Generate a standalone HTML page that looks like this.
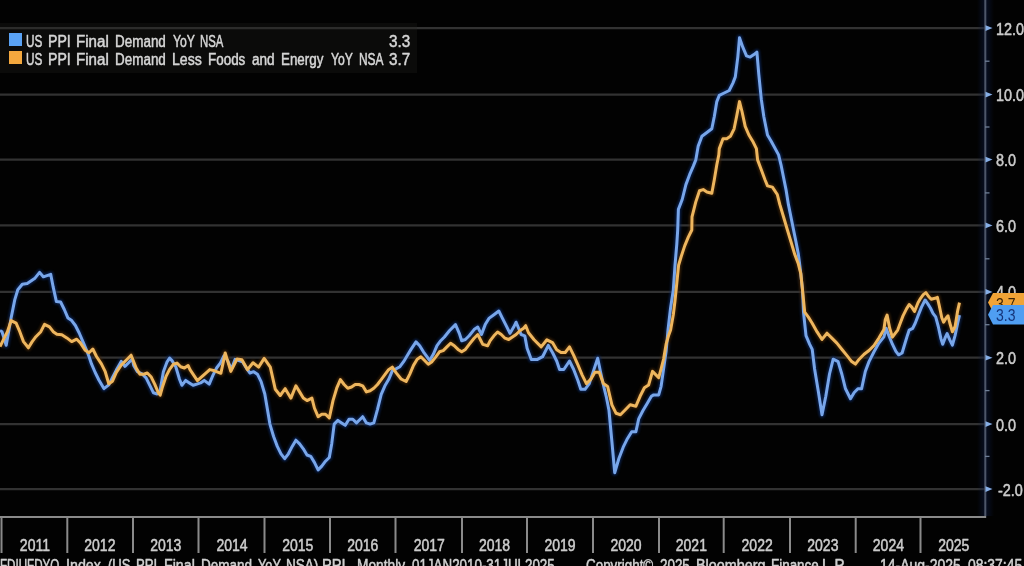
<!DOCTYPE html>
<html><head><meta charset="utf-8"><style>
html,body{margin:0;padding:0;background:#020202;}
body{width:1024px;height:566px;overflow:hidden;position:relative;font-family:"Liberation Sans",sans-serif;color:#cfcfcf;}
svg{position:absolute;left:0;top:0;}
.t{position:absolute;white-space:pre;font-size:16px;line-height:18px;transform-origin:0 0;transform:scaleX(0.875);text-shadow:0 0 1px rgba(200,200,200,0.5);-webkit-text-stroke:0.4px currentColor;filter:blur(0.3px);}
.yl{position:absolute;left:996px;white-space:pre;font-size:16px;line-height:18px;transform-origin:0 0;transform:scaleX(0.9);color:#cacaca;text-shadow:0 0 1px rgba(200,200,200,0.5);-webkit-text-stroke:0.4px currentColor;filter:blur(0.3px);}
.xl{position:absolute;top:537px;text-align:center;font-size:16px;line-height:18px;white-space:pre;color:#cacaca;transform:scaleX(0.875);text-shadow:0 0 1px rgba(200,200,200,0.5);-webkit-text-stroke:0.4px currentColor;filter:blur(0.3px);}
#legend{position:absolute;left:0;top:29.5px;width:416px;height:43px;}
#lbg{position:absolute;left:0;top:22.5px;width:417px;height:50.5px;background:rgba(34,32,30,0.3);}
.w{position:absolute;white-space:pre;font-size:16px;line-height:18px;transform-origin:0 0;text-shadow:0 0 1px rgba(200,200,200,0.5);-webkit-text-stroke:0.4px currentColor;filter:blur(0.3px);}
.sq{position:absolute;left:9px;width:13px;height:13px;}
.tag{position:absolute;left:988px;width:36px;clip-path:polygon(0 50%,5px 0,100% 0,100% 100%,5px 100%);}
.tag span{position:absolute;left:8px;top:0;font-size:16px;line-height:19px;transform-origin:0 0;transform:scaleX(0.875);}
</style></head><body>
<svg width="1024" height="566" viewBox="0 0 1024 566">
<g stroke="#323232" stroke-width="2.2"><line x1="0" y1="28.1" x2="985" y2="28.1" /><line x1="0" y1="94.6" x2="985" y2="94.6" /><line x1="0" y1="159.6" x2="985" y2="159.6" /><line x1="0" y1="225.4" x2="985" y2="225.4" /><line x1="0" y1="291.9" x2="985" y2="291.9" /><line x1="0" y1="357.7" x2="985" y2="357.7" /><line x1="0" y1="424.1" x2="985" y2="424.1" /><line x1="0" y1="489.1" x2="985" y2="489.1" /></g>
</svg>
<div id="lbg"></div>
<div id="legend">
 <div class="sq" style="top:3.5px;background:#5aa2f4"></div>
 <div class="sq" style="top:21.5px;background:#f4a83e"></div>
 <div class="w" style="left:26.07px;top:3.5px;color:#d4d4d4;transform:scaleX(0.7333);">US</div><div class="w" style="left:48.02px;top:3.5px;color:#d4d4d4;transform:scaleX(0.8833);">PPI</div><div class="w" style="left:76.45px;top:3.5px;color:#d4d4d4;transform:scaleX(0.9455);">Final</div><div class="w" style="left:114.86px;top:3.5px;color:#d4d4d4;transform:scaleX(0.8407);">Demand</div><div class="w" style="left:172.50px;top:3.5px;color:#d4d4d4;transform:scaleX(0.7621);">YoY</div><div class="w" style="left:200.49px;top:3.5px;color:#d4d4d4;transform:scaleX(0.7094);">NSA</div>
 <div class="w" style="left:26.07px;top:21.5px;color:#d4d4d4;transform:scaleX(0.7333);">US</div><div class="w" style="left:48.02px;top:21.5px;color:#d4d4d4;transform:scaleX(0.8833);">PPI</div><div class="w" style="left:76.45px;top:21.5px;color:#d4d4d4;transform:scaleX(0.9455);">Final</div><div class="w" style="left:114.86px;top:21.5px;color:#d4d4d4;transform:scaleX(0.8407);">Demand</div><div class="w" style="left:171.62px;top:21.5px;color:#d4d4d4;transform:scaleX(0.8818);">Less</div><div class="w" style="left:208.36px;top:21.5px;color:#d4d4d4;transform:scaleX(0.8395);">Foods</div><div class="w" style="left:252.00px;top:21.5px;color:#d4d4d4;transform:scaleX(0.8462);">and</div><div class="w" style="left:280.96px;top:21.5px;color:#d4d4d4;transform:scaleX(0.8360);">Energy</div><div class="w" style="left:330.90px;top:21.5px;color:#d4d4d4;transform:scaleX(0.7586);">YoY</div><div class="w" style="left:358.86px;top:21.5px;color:#d4d4d4;transform:scaleX(0.7438);">NSA</div>
 <div class="t" style="left:389px;top:3.5px;color:#d4d4d4;transform:scaleX(0.95)">3.3</div>
 <div class="t" style="left:389px;top:21.5px;color:#d4d4d4;transform:scaleX(0.95)">3.7</div>
</div>
<svg width="1024" height="566" viewBox="0 0 1024 566">
<defs><linearGradient id="ag" x1="0" x2="1" y1="0" y2="0"><stop offset="0" stop-color="#0c1a40" stop-opacity="0"/><stop offset="0.5" stop-color="#0c1a40" stop-opacity="0.55"/><stop offset="1" stop-color="#0c1a40" stop-opacity="0"/></linearGradient></defs>
<rect x="977" y="0" width="17" height="516" fill="url(#ag)"/>
<g style="filter:blur(1.2px)" opacity="0.7">
<polyline fill="none" stroke="#0c2a66" stroke-width="6" stroke-linejoin="round" points="0.0,330.5 2.0,331.7 6.2,345.3 11.1,318.1 14.8,299.6 17.8,289.7 22.3,284.2 27.2,283.5 30.9,281.0 34.6,278.6 39.6,272.4 43.3,276.8 50.7,274.3 53.2,287.2 56.4,301.6 60.6,302.0 64.3,309.5 68.0,318.1 71.7,320.6 75.4,325.5 79.2,333.0 82.9,341.6 86.6,350.3 89.0,356.5 91.5,363.9 95.2,372.5 98.9,380.0 103.9,388.6 108.8,384.9 112.5,377.5 116.3,370.1 121.2,361.4 124.9,366.4 128.6,362.7 132.3,358.9 133.7,365.5 137.4,371.7 142.4,374.2 146.1,377.9 149.8,385.3 153.5,392.8 157.2,394.0 159.7,392.8 163.4,371.7 167.1,361.8 169.6,358.1 172.0,360.6 175.8,366.8 179.5,379.2 181.9,385.3 185.7,380.4 189.4,382.9 193.1,385.3 196.8,384.1 200.5,382.9 204.2,380.4 209.2,384.1 212.9,375.4 216.6,368.0 220.3,363.1 224.0,355.7 227.7,360.6 231.4,369.3 235.1,359.4 238.8,360.6 242.5,361.8 246.3,368.0 250.0,373.0 253.7,371.7 257.4,374.2 261.1,381.6 264.8,394.0 267.4,409.3 269.9,424.1 273.6,436.5 277.3,446.4 281.0,453.8 284.7,458.7 288.4,453.8 292.2,446.4 295.9,440.2 299.6,443.9 303.3,448.8 307.0,455.0 310.7,456.3 314.4,462.4 318.1,469.9 321.8,466.1 325.5,461.2 329.3,457.5 331.7,443.9 334.2,424.1 337.9,420.4 341.6,422.9 345.3,425.3 349.0,419.2 352.8,419.2 356.5,422.9 360.2,419.2 362.7,416.7 366.4,422.9 370.1,424.1 373.8,422.9 377.5,409.3 381.2,394.4 384.9,385.8 388.6,379.6 392.3,370.9 399.9,366.7 403.6,361.7 407.3,355.5 411.0,349.4 416.0,341.9 419.7,345.7 423.4,351.8 427.1,356.8 429.6,360.5 433.3,354.3 437.0,345.7 440.7,340.7 444.4,337.0 449.4,330.8 455.5,324.6 459.3,333.3 461.7,340.7 465.4,339.5 469.2,335.8 474.1,329.6 477.8,327.1 481.5,334.5 485.2,324.6 488.9,318.4 493.9,314.7 498.8,311.0 502.5,318.4 506.3,325.9 510.0,333.3 513.7,327.1 516.1,322.2 518.6,328.3 521.1,334.5 524.8,335.8 527.1,348.3 531.3,359.6 537.0,359.6 542.6,356.7 548.3,345.4 552.5,352.5 556.7,361.0 559.6,369.5 563.8,369.5 569.5,361.0 573.7,369.5 578.0,380.8 580.8,389.3 585.0,389.3 589.3,383.6 593.5,370.9 597.7,358.2 600.6,372.3 603.4,385.0 606.2,396.3 609.0,410.5 611.9,441.6 614.7,472.7 618.9,458.5 623.2,447.2 627.4,438.7 631.7,431.7 635.9,431.7 638.7,418.9 643.0,410.5 647.2,403.4 651.4,396.3 653.7,394.9 658.7,394.9 661.1,386.3 663.6,368.9 666.1,351.6 668.0,330.0 670.6,307.7 673.3,290.1 675.0,265.3 676.8,244.1 677.7,230.0 678.4,209.4 682.2,199.5 685.9,184.6 689.6,174.7 693.3,166.1 695.8,159.9 698.2,146.1 701.9,136.3 706.9,132.5 711.8,128.8 714.3,116.5 716.8,101.6 719.3,95.4 724.2,93.0 729.2,90.5 732.9,83.1 735.3,76.9 737.8,57.1 739.5,37.8 742.8,47.2 746.5,55.9 750.2,57.1 753.9,54.6 756.9,52.2 758.8,74.4 761.3,99.2 763.8,116.5 767.5,135.0 771.2,141.2 778.6,154.9 781.0,164.8 783.5,177.2 786.0,189.6 788.4,204.4 790.9,216.8 793.4,229.2 795.9,241.5 798.3,253.9 799.6,263.8 800.8,273.7 802.5,289.9 803.5,312.2 806.0,335.7 809.7,344.3 812.2,349.3 814.6,369.0 818.3,391.3 822.0,414.8 825.8,396.3 829.5,374.0 833.2,359.2 838.1,361.6 841.8,374.0 845.5,388.8 850.5,398.7 854.2,392.5 857.9,388.8 861.6,388.8 865.3,371.5 869.0,361.6 874.0,351.7 878.9,343.1 883.9,336.9 886.2,328.3 888.8,335.4 892.4,344.2 895.9,351.3 898.6,354.8 902.1,353.0 904.7,344.2 907.4,335.4 909.2,330.1 912.7,328.3 915.3,323.0 918.0,315.9 921.5,307.1 925.1,300.0 927.7,303.6 930.4,308.0 933.0,313.3 935.7,316.8 938.3,326.5 941.0,338.9 942.7,344.2 945.4,337.1 947.1,333.6 949.8,339.8 952.4,345.1 955.1,335.4 957.7,323.0 959.5,315.1"/>
<polyline fill="none" stroke="#4a2a08" stroke-width="6" stroke-linejoin="round" points="0.0,346.6 3.7,339.2 7.4,331.7 11.1,320.6 16.1,323.1 19.8,331.7 23.5,341.6 28.4,347.8 32.2,341.6 35.9,336.7 40.8,331.7 44.5,324.3 49.5,326.8 53.2,331.7 56.9,334.2 61.8,334.7 66.8,337.9 71.7,341.6 76.7,339.2 80.4,342.9 85.3,350.3 89.0,352.8 92.8,349.0 96.5,356.5 101.4,363.9 105.1,371.3 108.8,383.7 112.5,381.2 116.3,372.5 121.2,365.1 126.1,360.2 131.1,355.2 136.2,368.0 139.9,374.2 143.6,374.2 147.3,373.0 151.0,376.7 154.7,384.1 158.4,392.8 160.2,395.2 162.2,387.8 165.9,376.7 169.6,369.3 173.3,364.3 177.0,363.1 180.7,366.8 184.4,368.0 188.1,365.5 190.0,369.6 197.4,380.7 209.8,369.6 214.7,370.8 220.9,373.3 225.2,352.9 230.8,371.4 237.0,359.0 241.9,359.7 247.5,369.6 253.0,362.8 258.6,367.1 264.2,358.4 270.3,367.1 275.3,389.3 280.2,395.5 285.2,388.7 290.0,396.7 290.9,398.1 295.9,385.8 299.6,391.9 303.3,398.1 307.0,400.6 311.9,398.1 314.4,408.0 318.1,416.7 321.8,414.2 325.5,414.2 329.3,417.9 333.0,400.6 336.7,388.2 340.4,379.6 344.1,384.5 347.8,388.2 351.5,387.0 355.2,384.5 358.9,384.5 362.7,385.8 366.4,391.9 370.1,390.7 373.8,388.2 377.5,384.5 381.2,379.6 384.9,374.6 388.6,369.7 392.3,367.2 396.2,372.9 401.1,379.0 406.1,381.5 409.8,374.1 413.5,365.4 417.2,359.3 420.9,356.8 424.6,360.5 428.3,364.2 432.0,361.7 435.8,356.8 439.5,351.8 443.2,350.6 446.9,346.9 450.6,343.2 454.3,345.7 458.0,349.4 461.7,351.8 465.4,349.4 469.2,344.4 474.1,338.2 477.8,334.5 480.3,339.5 482.8,344.4 487.7,345.7 490.2,340.7 493.9,335.8 497.6,332.0 501.3,334.5 505.0,338.2 508.7,339.5 512.4,337.0 516.1,334.5 519.9,330.8 523.6,328.3 525.7,325.7 528.5,332.7 534.1,339.8 541.2,346.9 546.9,339.8 552.5,342.6 556.7,349.7 561.0,352.5 565.2,352.5 569.5,346.9 573.7,355.3 578.0,365.2 582.2,375.1 586.4,383.6 590.7,379.4 594.9,372.3 599.2,372.3 603.4,383.6 607.6,386.4 611.9,404.8 616.1,413.3 620.4,414.7 624.6,410.5 630.2,404.8 635.9,406.2 640.1,396.3 644.4,387.8 648.6,385.0 652.5,371.4 656.2,375.1 658.7,377.6 661.1,368.9 663.6,359.0 666.1,344.2 668.6,335.5 670.6,330.0 673.3,314.8 675.0,300.7 676.8,283.0 678.6,265.3 681.2,256.5 684.7,245.9 688.3,237.1 691.8,230.0 692.0,216.8 695.8,201.9 699.5,190.8 703.2,189.6 706.9,192.0 711.8,193.3 714.3,179.7 716.8,164.8 718.8,154.9 719.3,148.6 723.0,138.7 726.7,138.7 730.4,136.3 734.1,128.8 736.6,116.5 739.5,101.6 742.0,111.5 745.2,126.4 748.9,135.0 752.7,141.2 756.4,148.6 757.6,159.9 761.3,169.8 765.0,179.7 767.5,185.9 772.4,187.1 777.3,194.5 779.8,204.4 783.5,216.8 787.2,229.2 790.9,241.5 794.6,253.9 798.3,263.8 800.8,273.7 802.5,289.9 804.7,312.2 808.4,317.1 812.2,323.3 817.1,331.9 822.0,339.4 827.0,333.2 831.9,338.1 836.9,343.1 841.8,349.3 846.8,355.4 851.7,361.6 855.4,364.1 859.2,359.2 864.1,354.2 869.0,350.5 874.0,345.5 878.9,338.1 883.9,329.5 885.3,319.5 887.1,315.1 889.7,328.3 892.4,337.1 895.0,333.6 897.7,330.1 900.3,323.0 903.0,315.9 906.5,308.9 909.2,304.5 911.8,307.1 914.5,311.5 918.0,302.7 920.6,298.3 923.3,294.7 925.9,292.6 928.6,296.5 931.2,299.2 934.8,298.3 937.4,297.4 939.2,305.3 941.8,317.7 943.6,322.1 946.3,317.7 948.0,315.9 949.8,323.0 952.4,331.8 955.1,326.5 957.7,310.6 959.5,302.7"/>
</g>
<g style="filter:blur(0.45px)">
<polyline fill="none" stroke="#78a6ea" stroke-width="3" stroke-linejoin="round" points="0.0,330.5 2.0,331.7 6.2,345.3 11.1,318.1 14.8,299.6 17.8,289.7 22.3,284.2 27.2,283.5 30.9,281.0 34.6,278.6 39.6,272.4 43.3,276.8 50.7,274.3 53.2,287.2 56.4,301.6 60.6,302.0 64.3,309.5 68.0,318.1 71.7,320.6 75.4,325.5 79.2,333.0 82.9,341.6 86.6,350.3 89.0,356.5 91.5,363.9 95.2,372.5 98.9,380.0 103.9,388.6 108.8,384.9 112.5,377.5 116.3,370.1 121.2,361.4 124.9,366.4 128.6,362.7 132.3,358.9 133.7,365.5 137.4,371.7 142.4,374.2 146.1,377.9 149.8,385.3 153.5,392.8 157.2,394.0 159.7,392.8 163.4,371.7 167.1,361.8 169.6,358.1 172.0,360.6 175.8,366.8 179.5,379.2 181.9,385.3 185.7,380.4 189.4,382.9 193.1,385.3 196.8,384.1 200.5,382.9 204.2,380.4 209.2,384.1 212.9,375.4 216.6,368.0 220.3,363.1 224.0,355.7 227.7,360.6 231.4,369.3 235.1,359.4 238.8,360.6 242.5,361.8 246.3,368.0 250.0,373.0 253.7,371.7 257.4,374.2 261.1,381.6 264.8,394.0 267.4,409.3 269.9,424.1 273.6,436.5 277.3,446.4 281.0,453.8 284.7,458.7 288.4,453.8 292.2,446.4 295.9,440.2 299.6,443.9 303.3,448.8 307.0,455.0 310.7,456.3 314.4,462.4 318.1,469.9 321.8,466.1 325.5,461.2 329.3,457.5 331.7,443.9 334.2,424.1 337.9,420.4 341.6,422.9 345.3,425.3 349.0,419.2 352.8,419.2 356.5,422.9 360.2,419.2 362.7,416.7 366.4,422.9 370.1,424.1 373.8,422.9 377.5,409.3 381.2,394.4 384.9,385.8 388.6,379.6 392.3,370.9 399.9,366.7 403.6,361.7 407.3,355.5 411.0,349.4 416.0,341.9 419.7,345.7 423.4,351.8 427.1,356.8 429.6,360.5 433.3,354.3 437.0,345.7 440.7,340.7 444.4,337.0 449.4,330.8 455.5,324.6 459.3,333.3 461.7,340.7 465.4,339.5 469.2,335.8 474.1,329.6 477.8,327.1 481.5,334.5 485.2,324.6 488.9,318.4 493.9,314.7 498.8,311.0 502.5,318.4 506.3,325.9 510.0,333.3 513.7,327.1 516.1,322.2 518.6,328.3 521.1,334.5 524.8,335.8 527.1,348.3 531.3,359.6 537.0,359.6 542.6,356.7 548.3,345.4 552.5,352.5 556.7,361.0 559.6,369.5 563.8,369.5 569.5,361.0 573.7,369.5 578.0,380.8 580.8,389.3 585.0,389.3 589.3,383.6 593.5,370.9 597.7,358.2 600.6,372.3 603.4,385.0 606.2,396.3 609.0,410.5 611.9,441.6 614.7,472.7 618.9,458.5 623.2,447.2 627.4,438.7 631.7,431.7 635.9,431.7 638.7,418.9 643.0,410.5 647.2,403.4 651.4,396.3 653.7,394.9 658.7,394.9 661.1,386.3 663.6,368.9 666.1,351.6 668.0,330.0 670.6,307.7 673.3,290.1 675.0,265.3 676.8,244.1 677.7,230.0 678.4,209.4 682.2,199.5 685.9,184.6 689.6,174.7 693.3,166.1 695.8,159.9 698.2,146.1 701.9,136.3 706.9,132.5 711.8,128.8 714.3,116.5 716.8,101.6 719.3,95.4 724.2,93.0 729.2,90.5 732.9,83.1 735.3,76.9 737.8,57.1 739.5,37.8 742.8,47.2 746.5,55.9 750.2,57.1 753.9,54.6 756.9,52.2 758.8,74.4 761.3,99.2 763.8,116.5 767.5,135.0 771.2,141.2 778.6,154.9 781.0,164.8 783.5,177.2 786.0,189.6 788.4,204.4 790.9,216.8 793.4,229.2 795.9,241.5 798.3,253.9 799.6,263.8 800.8,273.7 802.5,289.9 803.5,312.2 806.0,335.7 809.7,344.3 812.2,349.3 814.6,369.0 818.3,391.3 822.0,414.8 825.8,396.3 829.5,374.0 833.2,359.2 838.1,361.6 841.8,374.0 845.5,388.8 850.5,398.7 854.2,392.5 857.9,388.8 861.6,388.8 865.3,371.5 869.0,361.6 874.0,351.7 878.9,343.1 883.9,336.9 886.2,328.3 888.8,335.4 892.4,344.2 895.9,351.3 898.6,354.8 902.1,353.0 904.7,344.2 907.4,335.4 909.2,330.1 912.7,328.3 915.3,323.0 918.0,315.9 921.5,307.1 925.1,300.0 927.7,303.6 930.4,308.0 933.0,313.3 935.7,316.8 938.3,326.5 941.0,338.9 942.7,344.2 945.4,337.1 947.1,333.6 949.8,339.8 952.4,345.1 955.1,335.4 957.7,323.0 959.5,315.1"/>
<polyline fill="none" stroke="#eeb65e" stroke-width="3" stroke-linejoin="round" points="0.0,346.6 3.7,339.2 7.4,331.7 11.1,320.6 16.1,323.1 19.8,331.7 23.5,341.6 28.4,347.8 32.2,341.6 35.9,336.7 40.8,331.7 44.5,324.3 49.5,326.8 53.2,331.7 56.9,334.2 61.8,334.7 66.8,337.9 71.7,341.6 76.7,339.2 80.4,342.9 85.3,350.3 89.0,352.8 92.8,349.0 96.5,356.5 101.4,363.9 105.1,371.3 108.8,383.7 112.5,381.2 116.3,372.5 121.2,365.1 126.1,360.2 131.1,355.2 136.2,368.0 139.9,374.2 143.6,374.2 147.3,373.0 151.0,376.7 154.7,384.1 158.4,392.8 160.2,395.2 162.2,387.8 165.9,376.7 169.6,369.3 173.3,364.3 177.0,363.1 180.7,366.8 184.4,368.0 188.1,365.5 190.0,369.6 197.4,380.7 209.8,369.6 214.7,370.8 220.9,373.3 225.2,352.9 230.8,371.4 237.0,359.0 241.9,359.7 247.5,369.6 253.0,362.8 258.6,367.1 264.2,358.4 270.3,367.1 275.3,389.3 280.2,395.5 285.2,388.7 290.0,396.7 290.9,398.1 295.9,385.8 299.6,391.9 303.3,398.1 307.0,400.6 311.9,398.1 314.4,408.0 318.1,416.7 321.8,414.2 325.5,414.2 329.3,417.9 333.0,400.6 336.7,388.2 340.4,379.6 344.1,384.5 347.8,388.2 351.5,387.0 355.2,384.5 358.9,384.5 362.7,385.8 366.4,391.9 370.1,390.7 373.8,388.2 377.5,384.5 381.2,379.6 384.9,374.6 388.6,369.7 392.3,367.2 396.2,372.9 401.1,379.0 406.1,381.5 409.8,374.1 413.5,365.4 417.2,359.3 420.9,356.8 424.6,360.5 428.3,364.2 432.0,361.7 435.8,356.8 439.5,351.8 443.2,350.6 446.9,346.9 450.6,343.2 454.3,345.7 458.0,349.4 461.7,351.8 465.4,349.4 469.2,344.4 474.1,338.2 477.8,334.5 480.3,339.5 482.8,344.4 487.7,345.7 490.2,340.7 493.9,335.8 497.6,332.0 501.3,334.5 505.0,338.2 508.7,339.5 512.4,337.0 516.1,334.5 519.9,330.8 523.6,328.3 525.7,325.7 528.5,332.7 534.1,339.8 541.2,346.9 546.9,339.8 552.5,342.6 556.7,349.7 561.0,352.5 565.2,352.5 569.5,346.9 573.7,355.3 578.0,365.2 582.2,375.1 586.4,383.6 590.7,379.4 594.9,372.3 599.2,372.3 603.4,383.6 607.6,386.4 611.9,404.8 616.1,413.3 620.4,414.7 624.6,410.5 630.2,404.8 635.9,406.2 640.1,396.3 644.4,387.8 648.6,385.0 652.5,371.4 656.2,375.1 658.7,377.6 661.1,368.9 663.6,359.0 666.1,344.2 668.6,335.5 670.6,330.0 673.3,314.8 675.0,300.7 676.8,283.0 678.6,265.3 681.2,256.5 684.7,245.9 688.3,237.1 691.8,230.0 692.0,216.8 695.8,201.9 699.5,190.8 703.2,189.6 706.9,192.0 711.8,193.3 714.3,179.7 716.8,164.8 718.8,154.9 719.3,148.6 723.0,138.7 726.7,138.7 730.4,136.3 734.1,128.8 736.6,116.5 739.5,101.6 742.0,111.5 745.2,126.4 748.9,135.0 752.7,141.2 756.4,148.6 757.6,159.9 761.3,169.8 765.0,179.7 767.5,185.9 772.4,187.1 777.3,194.5 779.8,204.4 783.5,216.8 787.2,229.2 790.9,241.5 794.6,253.9 798.3,263.8 800.8,273.7 802.5,289.9 804.7,312.2 808.4,317.1 812.2,323.3 817.1,331.9 822.0,339.4 827.0,333.2 831.9,338.1 836.9,343.1 841.8,349.3 846.8,355.4 851.7,361.6 855.4,364.1 859.2,359.2 864.1,354.2 869.0,350.5 874.0,345.5 878.9,338.1 883.9,329.5 885.3,319.5 887.1,315.1 889.7,328.3 892.4,337.1 895.0,333.6 897.7,330.1 900.3,323.0 903.0,315.9 906.5,308.9 909.2,304.5 911.8,307.1 914.5,311.5 918.0,302.7 920.6,298.3 923.3,294.7 925.9,292.6 928.6,296.5 931.2,299.2 934.8,298.3 937.4,297.4 939.2,305.3 941.8,317.7 943.6,322.1 946.3,317.7 948.0,315.9 949.8,323.0 952.4,331.8 955.1,326.5 957.7,310.6 959.5,302.7"/>
</g>
<line x1="985.3" y1="0" x2="985.3" y2="518" stroke="#4d5668" stroke-width="2"/>
<line x1="0" y1="517" x2="986" y2="517" stroke="#8a8a8a" stroke-width="2"/>
<g stroke="#8a8a8a" stroke-width="2"><line x1="1.5" y1="516" x2="1.5" y2="553" /><line x1="67.3" y1="516" x2="67.3" y2="553" /><line x1="133.0" y1="516" x2="133.0" y2="553" /><line x1="198.5" y1="516" x2="198.5" y2="553" /><line x1="264.5" y1="516" x2="264.5" y2="553" /><line x1="330.0" y1="516" x2="330.0" y2="553" /><line x1="395.5" y1="516" x2="395.5" y2="553" /><line x1="462.0" y1="516" x2="462.0" y2="553" /><line x1="527.0" y1="516" x2="527.0" y2="553" /><line x1="593.0" y1="516" x2="593.0" y2="553" /><line x1="659.0" y1="516" x2="659.0" y2="553" /><line x1="723.7" y1="516" x2="723.7" y2="553" /><line x1="790.0" y1="516" x2="790.0" y2="553" /><line x1="855.7" y1="516" x2="855.7" y2="553" /><line x1="920.5" y1="516" x2="920.5" y2="553" /></g>
<g fill="#86aee6"><path d="M985.5 25.3 L992.5 28.1 L985.5 30.9Z" /><path d="M985.5 91.8 L992.5 94.6 L985.5 97.4Z" /><path d="M985.5 156.8 L992.5 159.6 L985.5 162.4Z" /><path d="M985.5 222.6 L992.5 225.4 L985.5 228.2Z" /><path d="M985.5 289.1 L992.5 291.9 L985.5 294.7Z" /><path d="M985.5 354.9 L992.5 357.7 L985.5 360.5Z" /><path d="M985.5 421.3 L992.5 424.1 L985.5 426.9Z" /><path d="M985.5 486.3 L992.5 489.1 L985.5 491.9Z" /></g>
<g stroke="#6e7e96" stroke-width="1.3"><line x1="985" y1="456.4" x2="989.5" y2="456.4" /><line x1="985" y1="390.6" x2="989.5" y2="390.6" /><line x1="985" y1="324.7" x2="989.5" y2="324.7" /><line x1="985" y1="258.8" x2="989.5" y2="258.8" /><line x1="985" y1="192.9" x2="989.5" y2="192.9" /><line x1="985" y1="127.0" x2="989.5" y2="127.0" /><line x1="985" y1="61.2" x2="989.5" y2="61.2" /></g>
</svg>
<div class="yl" style="top:20.6px;">12.0</div><div class="yl" style="top:87.1px;">10.0</div><div class="yl" style="top:152.1px;">8.0</div><div class="yl" style="top:217.9px;">6.0</div><div class="yl" style="top:284.4px;">4.0</div><div class="yl" style="top:350.2px;">2.0</div><div class="yl" style="top:416.6px;">0.0</div><div class="yl" style="top:481.6px;margin-left:1.5px">-2.0</div>
<div class="xl" style="left:1.5px;width:65.8px">2011</div><div class="xl" style="left:67.3px;width:65.7px">2012</div><div class="xl" style="left:133.0px;width:65.5px">2013</div><div class="xl" style="left:198.5px;width:66.0px">2014</div><div class="xl" style="left:264.5px;width:65.5px">2015</div><div class="xl" style="left:330.0px;width:65.5px">2016</div><div class="xl" style="left:395.5px;width:66.5px">2017</div><div class="xl" style="left:462.0px;width:65.0px">2018</div><div class="xl" style="left:527.0px;width:66.0px">2019</div><div class="xl" style="left:593.0px;width:66.0px">2020</div><div class="xl" style="left:659.0px;width:64.7px">2021</div><div class="xl" style="left:723.7px;width:66.3px">2022</div><div class="xl" style="left:790.0px;width:65.7px">2023</div><div class="xl" style="left:855.7px;width:64.8px">2024</div><div class="xl" style="left:920.5px;width:65.5px">2025</div>
<div class="tag" style="top:293px;height:19px;background:#f0a336"><span style="color:#3a2205;top:1.5px">3.7</span></div>
<div class="tag" style="top:305px;height:19.5px;background:#4f9ef2"><span style="color:#15357a;top:0.5px">3.3</span></div>
<div class="w" style="left:-0.32px;top:556.5px;color:#cfcfcf;transform:scaleX(0.7250);">FDIUFDYO</div><div class="w" style="left:65.81px;top:556.5px;color:#cfcfcf;transform:scaleX(0.8921);">Index</div><div class="w" style="left:107.58px;top:556.5px;color:#cfcfcf;transform:scaleX(0.8154);">(US</div><div class="w" style="left:135.78px;top:556.5px;color:#cfcfcf;transform:scaleX(0.8208);">PPI</div><div class="w" style="left:163.71px;top:556.5px;color:#cfcfcf;transform:scaleX(0.8879);">Final</div><div class="w" style="left:200.55px;top:556.5px;color:#cfcfcf;transform:scaleX(0.8458);">Demand</div><div class="w" style="left:257.90px;top:556.5px;color:#cfcfcf;transform:scaleX(0.7966);">YoY</div><div class="w" style="left:286.45px;top:556.5px;color:#cfcfcf;transform:scaleX(0.8459);">NSA)</div><div class="w" style="left:322.49px;top:556.5px;color:#cfcfcf;transform:scaleX(0.9125);">PPI</div><div class="w" style="left:356.84px;top:556.5px;color:#cfcfcf;transform:scaleX(0.8582);">Monthly</div><div class="w" style="left:411.80px;top:556.5px;color:#cfcfcf;transform:scaleX(0.8357);">01JAN2010-31JUL2025</div><div class="w" style="left:586.30px;top:556.5px;color:#cfcfcf;transform:scaleX(0.8375);">Copyright©</div><div class="w" style="left:659.50px;top:556.5px;color:#cfcfcf;transform:scaleX(0.8371);">2025</div><div class="w" style="left:695.50px;top:556.5px;color:#cfcfcf;transform:scaleX(0.8987);">Bloomberg</div><div class="w" style="left:770.56px;top:556.5px;color:#cfcfcf;transform:scaleX(0.8393);">Finance</div><div class="w" style="left:822.37px;top:556.5px;color:#cfcfcf;transform:scaleX(0.9333);">L.P.</div><div class="w" style="left:879.83px;top:556.5px;color:#cfcfcf;transform:scaleX(0.8736);">14-Aug-2025</div><div class="w" style="left:967.80px;top:556.5px;color:#cfcfcf;transform:scaleX(0.8694);">08:37:45</div>
</body></html>
